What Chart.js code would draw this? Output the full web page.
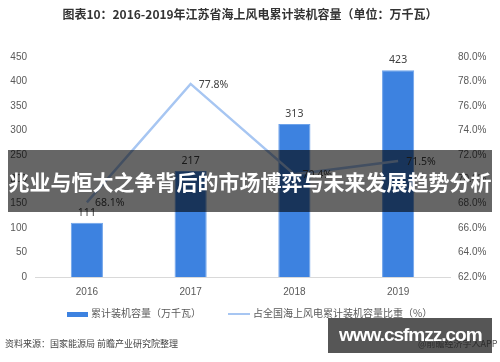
<!DOCTYPE html>
<html>
<head>
<meta charset="utf-8">
<script src="https://cdn.jsdelivr.net/npm/chart.js@4/dist/chart.umd.min.js"></script>
<style>
    html, body { margin: 0; padding: 0; background: #fff; }
    #wrap { position: relative; width: 500px; height: 362px; overflow: hidden;
        font-family: "Noto Sans CJK SC", "Noto Sans", sans-serif; }
    #chartBox { position: absolute; left: 0; top: 0; width: 500px; height: 362px; }
    .title { position: absolute; top: 5px; left: 0; width: 500px; text-align: center;
        font-size: 12px; font-weight: bold; color: #333; }
    .legend { position: absolute; top: 305px; font-size: 10px; color: #595959; line-height: 16px; white-space: nowrap; }
    .legend i { display: inline-block; vertical-align: middle; margin-right: 3px; }
    .source { position: absolute; left: 5px; top: 337px; font-size: 9px; color: #444; }
    .app { position: absolute; left: 418px; top: 337px; font-size: 9px; color: #555; white-space: nowrap; }
    .banner { position: absolute; left: 8px; top: 150px; width: 484px; height: 62px;
        background: rgba(0,0,0,0.6); color: #fff; font-size: 21px; font-weight: bold;
        line-height: 62px; text-align: center; white-space: nowrap; }
    .mark { position: absolute; left: 328px; top: 318px; width: 164px; height: 35px;
        background: rgba(30,30,30,0.75); color: #fff; font-family: "Liberation Sans", Arial, sans-serif;
        font-size: 19px; font-weight: bold; letter-spacing: -1px; line-height: 33px; text-indent: 11px; }
</style>
</head>
<body>
<div id="wrap">
    <div id="chartBox"><canvas id="chart" width="500" height="362"></canvas></div>
    <div class="title">图表10：2016-2019年江苏省海上风电累计装机容量（单位：万千瓦）</div>
    <div class="legend" style="left:67px"><i style="width:21px;height:5px;background:#3d82e0"></i>累计装机容量（万千瓦）</div>
    <div class="legend" style="left:228px"><i style="width:22px;height:2px;background:#a7c6f2"></i>占全国海上风电累计装机容量比重（%）</div>
    <div class="source">资料来源：国家能源局 前瞻产业研究院整理</div>
    <div class="app">@前瞻经济学人APP</div>
    <div class="banner">兆业与恒大之争背后的市场博弈与未来发展趋势分析</div>
    <div class="mark">www.csfmzz.com</div>
</div>
<script>
// Data
const years = ['2016', '2017', '2018', '2019'];
const capacity = [111, 217, 313, 423];      // 万千瓦
const sharePct = [68.1, 77.8, 70.4, 71.5];  // %

const barColor = '#3d82e0';
const lineColor = '#a7c6f2';
const tickColor = '#595959';

// Draw value labels (no datalabels plugin offline)
const valueLabels = {
    id: 'valueLabels',
    afterDatasetsDraw(chart) {
        const ctx = chart.ctx;
        ctx.save();
        ctx.font = '10.5px "Noto Sans", sans-serif';
        ctx.fillStyle = '#404040';
        ctx.textBaseline = 'middle';

        chart.getDatasetMeta(0).data.forEach((bar, i) => {
            ctx.textAlign = 'center';
            ctx.fillText(capacity[i], bar.x, bar.y - 10);
        });
        chart.getDatasetMeta(1).data.forEach((pt, i) => {
            ctx.textAlign = 'left';
            ctx.fillText(sharePct[i].toFixed(1) + '%', pt.x + 8, pt.y + 1);
        });
        ctx.restore();
    }
};

new Chart(document.getElementById('chart'), {
    data: {
        labels: years,
        datasets: [{
            type: 'bar',
            label: '累计装机容量（万千瓦）',
            data: capacity,
            backgroundColor: barColor,
            borderColor: '#6ea3ea',
            borderWidth: 1,
            categoryPercentage: 1,
            barPercentage: 0.31,
            yAxisID: 'y',
            order: 2
        }, {
            type: 'line',
            label: '占全国海上风电累计装机容量比重（%）',
            data: sharePct,
            borderColor: lineColor,
            borderWidth: 2.5,
            pointRadius: 0,
            tension: 0,
            yAxisID: 'y1',
            order: 1
        }]
    },
    options: {
        responsive: false,
        animation: false,
        layout: { padding: { top: 57, left: 0, right: 0, bottom: 0 } },
        plugins: {
            legend: { display: false },
            tooltip: { enabled: false }
        },
        scales: {
            x: {
                grid: { display: false, drawTicks: false },
                border: { display: true, color: '#d9d9d9' },
                ticks: { color: tickColor, font: { size: 10 }, padding: 9 },
                afterFit(scale) { scale.height = 85; }
            },
            y: {
                position: 'left',
                min: 0, max: 450,
                grid: { display: false, drawTicks: false },
                border: { display: false },
                ticks: { stepSize: 50, color: tickColor, font: { size: 10 }, padding: 8 },
                afterFit(scale) { scale.width = 35; }
            },
            y1: {
                position: 'right',
                min: 62, max: 80,
                grid: { display: false, drawTicks: false },
                border: { display: false },
                ticks: {
                    stepSize: 2, color: tickColor, font: { size: 10 }, padding: 8,
                    callback: v => v.toFixed(1) + '%'
                },
                afterFit(scale) { scale.width = 50; }
            }
        }
    },
    plugins: [valueLabels]
});
</script>
</body>
</html>
